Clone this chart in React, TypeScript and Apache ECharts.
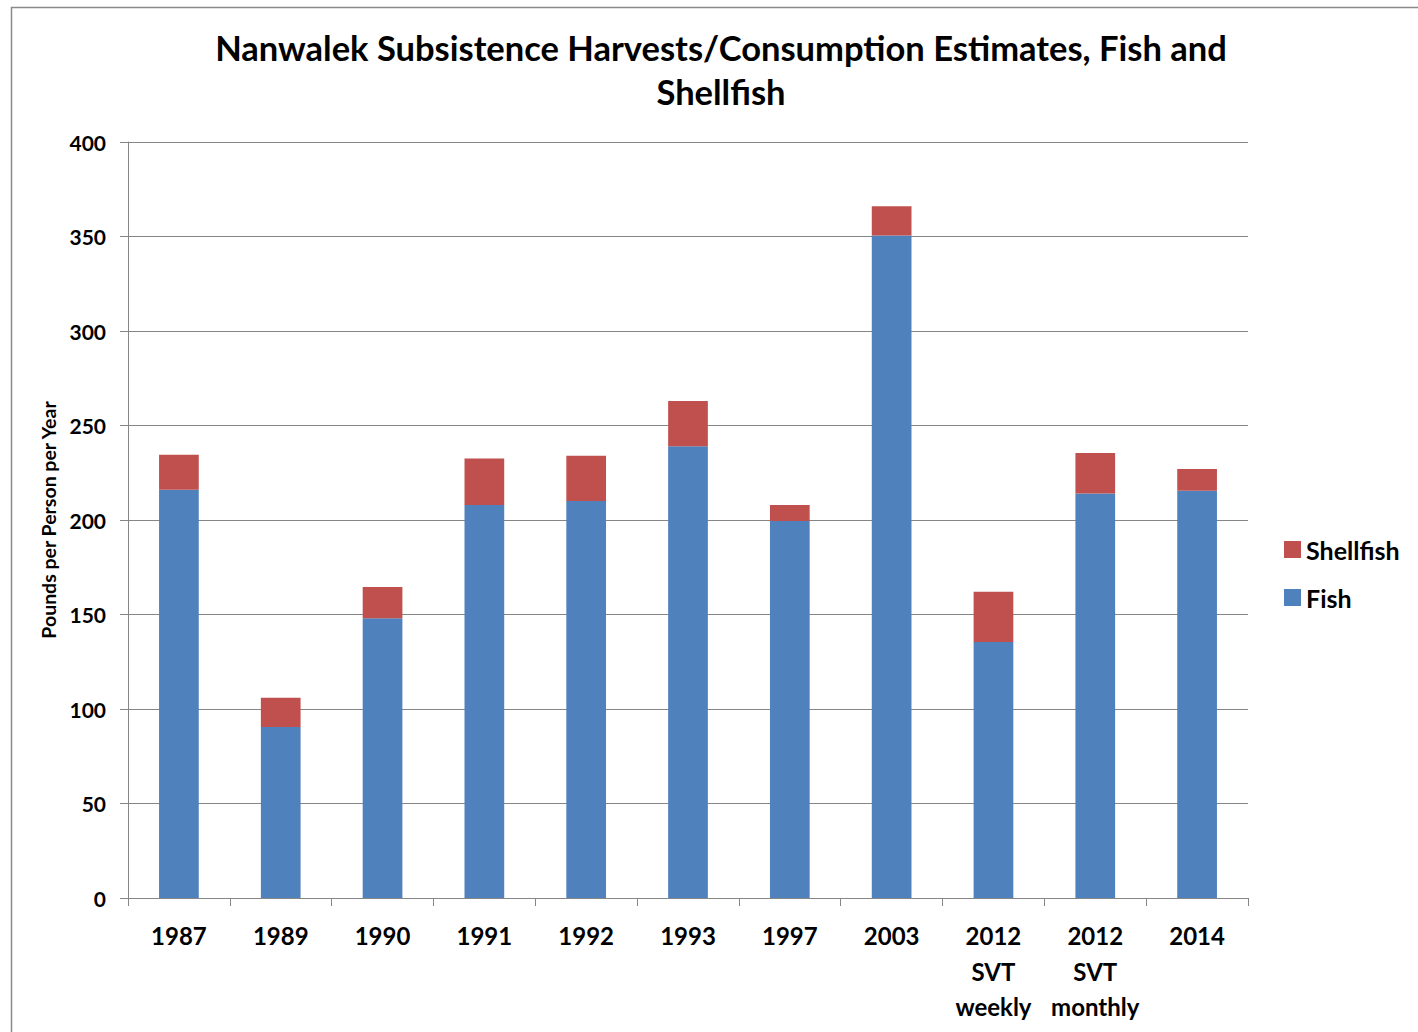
import React, { useEffect, useRef } from "react";
import * as echarts from "echarts";

// Survey years (multi-line labels for the two 2012 SVT estimates)
const categories = [
  "1987",
  "1989",
  "1990",
  "1991",
  "1992",
  "1993",
  "1997",
  "2003",
  "2012\nSVT\nweekly",
  "2012\nSVT\nmonthly",
  "2014",
];

// Pounds per person per year
const fishValues = [216, 90.5, 148, 208, 210, 239, 199.5, 350.5, 135.5, 214, 215.5];
const shellfishValues = [18.5, 15.5, 16.5, 24.5, 24, 24, 8.5, 15.5, 26.5, 21.5, 11.5];

const yTicks = { min: 0, max: 400, interval: 50 };

const FONT = "Lato, 'Open Sans', sans-serif";

export default function App() {
  const ref = useRef<HTMLDivElement>(null);

  useEffect(() => {
    document.body.style.margin = "0";
    if (!ref.current) return;
    const chart = echarts.init(ref.current, undefined, { renderer: "svg" });
    chart.setOption({
      animation: false,
      backgroundColor: "#ffffff",
      textStyle: { fontFamily: FONT },
      title: {
        text: "Nanwalek Subsistence Harvests/Consumption Estimates, Fish and\nShellfish",
        left: 716,
        textAlign: "center",
        top: 20,
        textStyle: {
          fontFamily: FONT,
          fontSize: 34.5,
          fontWeight: "bold",
          color: "#000",
          lineHeight: 44,
        },
      },
      graphic: [
        {
          type: "rect",
          shape: { x: 11.5, y: 7.5, width: 1440, height: 1060 },
          style: { fill: "none", stroke: "#8a8a8a", lineWidth: 1.5 },
          silent: true,
        },
      ],
      legend: {
        orient: "vertical",
        left: 1279,
        top: 532,
        itemWidth: 17,
        itemHeight: 17,
        itemGap: 23,
        icon: "rect",
        data: ["Shellfish", "Fish"],
        textStyle: {
          fontFamily: FONT,
          fontSize: 25,
          fontWeight: "bold",
          color: "#000",
          padding: [0, 0, 0, 0],
        },
      },
      grid: { left: 128, right: 170, top: 142, bottom: 134 },
      xAxis: {
        type: "category",
        data: categories,
        axisLine: { lineStyle: { color: "#868686", width: 1 } },
        axisTick: { show: true, length: 8, lineStyle: { color: "#868686" } },
        axisLabel: {
          interval: 0,
          margin: 20,
          fontFamily: FONT,
          fontSize: 24,
          fontWeight: "bold",
          color: "#000",
          lineHeight: 35.5,
        },
      },
      yAxis: {
        type: "value",
        min: yTicks.min,
        max: yTicks.max,
        interval: yTicks.interval,
        name: "Pounds per Person per Year",
        nameLocation: "middle",
        nameGap: 68,
        nameTextStyle: {
          fontFamily: FONT,
          fontSize: 19.5,
          fontWeight: "bold",
          color: "#000",
        },
        axisLine: { show: true, lineStyle: { color: "#868686", width: 1 } },
        axisTick: { show: true, length: 8, lineStyle: { color: "#868686" } },
        splitLine: { lineStyle: { color: "#868686", width: 1 } },
        axisLabel: {
          margin: 22,
          fontFamily: FONT,
          fontSize: 21,
          fontWeight: "bold",
          color: "#000",
        },
      },
      series: [
        {
          name: "Fish",
          type: "bar",
          stack: "total",
          data: fishValues,
          barWidth: "39%",
          itemStyle: { color: "#4F81BD" },
        },
        {
          name: "Shellfish",
          type: "bar",
          stack: "total",
          data: shellfishValues,
          barWidth: "39%",
          itemStyle: { color: "#C0504D" },
        },
      ],
    });
    return () => chart.dispose();
  }, []);

  return <div ref={ref} style={{ width: 1418, height: 1032 }} />;
}
